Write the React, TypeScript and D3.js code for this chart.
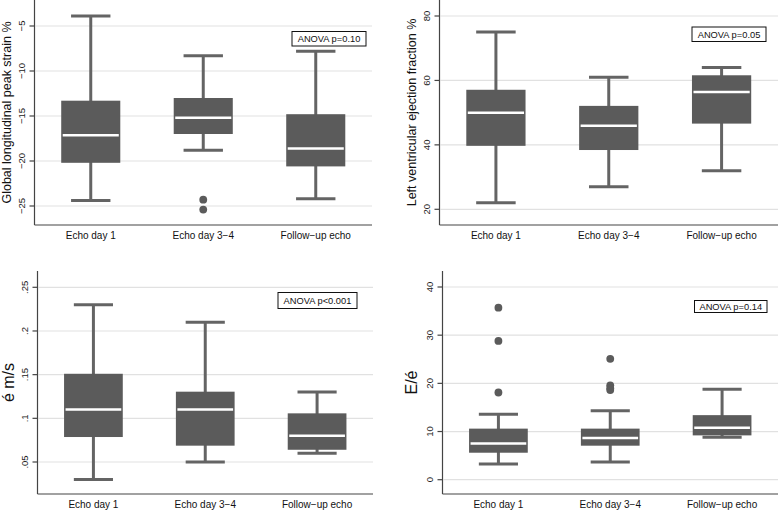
import React, { useEffect, useRef } from 'react';
import * as d3 from 'd3';

const categories = ['Echo day 1', 'Echo day 3\u22124', 'Follow\u2212up echo'];

// each box: [lower whisker, q1, median, q3, upper whisker]
const strainBoxes = [
  [-24.4, -20.2, -17.15, -13.3, -3.9],
  [-18.8, -17.0, -15.2, -13.0, -8.3],
  [-24.2, -20.6, -18.6, -14.8, -7.8],
];
const strainOutliers = [[], [-24.3, -25.4], []];
const strainTicks = [-25, -20, -15, -10, -5];
const strainTickLabels = ['\u221225', '\u221220', '\u221215', '\u221210', '\u22125'];

const lvefBoxes = [
  [22, 39.7, 50, 57.1, 75],
  [27, 38.4, 45.9, 52.1, 61],
  [32, 46.6, 56.4, 61.6, 64],
];
const lvefOutliers = [[], [], []];
const lvefTicks = [20, 40, 60, 80];
const lvefTickLabels = ['20', '40', '60', '80'];

const eVelBoxes = [
  [0.03, 0.0786, 0.11, 0.151, 0.23],
  [0.05, 0.0687, 0.11, 0.1305, 0.21],
  [0.06, 0.064, 0.08, 0.1057, 0.13],
];
const eVelOutliers = [[], [], []];
const eVelTicks = [0.05, 0.1, 0.15, 0.2, 0.25];
const eVelTickLabels = ['.05', '.1', '.15', '.2', '.25'];

const eeBoxes = [
  [3.25, 5.6, 7.5, 10.6, 13.6],
  [3.7, 7.06, 8.65, 10.6, 14.3],
  [8.8, 9.2, 10.8, 13.4, 18.8],
];
const eeOutliers = [[35.7, 28.8, 18.1], [25.1, 19.6, 19.0, 18.6], []];
const eeTicks = [0, 10, 20, 30, 40];
const eeTickLabels = ['0', '10', '20', '30', '40'];

const anovaLabels = ['ANOVA p=0.10', 'ANOVA p=0.05', 'ANOVA p<0.001', 'ANOVA p=0.14'];

const panels = [
  {
    title: 'Global longitudinal peak strain %', titleSize: 12.5, titleGap: 23.5,
    boxes: strainBoxes, outliers: strainOutliers, ticks: strainTicks, tickLabels: strainTickLabels,
    yDomain: [-25, -5], yRange: [206, 26],
    frame: { left: 34.5, right: 372, top: -2, bottom: 225 },
    note: { x: 292, y: 31.5, w: 74, h: 14.5 },
  },
  {
    title: 'Left ventricular ejection fraction %', titleSize: 12.5, titleGap: 23.5,
    boxes: lvefBoxes, outliers: lvefOutliers, ticks: lvefTicks, tickLabels: lvefTickLabels,
    yDomain: [20, 80], yRange: [209.3, 16],
    frame: { left: 439.5, right: 778, top: -2, bottom: 225 },
    note: { x: 692, y: 27, w: 74, h: 14.5 },
  },
  {
    title: 'é m/s', titleSize: 16, titleGap: 24,
    boxes: eVelBoxes, outliers: eVelOutliers, ticks: eVelTicks, tickLabels: eVelTickLabels,
    yDomain: [0.05, 0.25], yRange: [462, 287.3],
    frame: { left: 37.5, right: 373, top: 271, bottom: 494 },
    note: { x: 278, y: 292.5, w: 79, h: 16 },
  },
  {
    title: 'E/é', titleSize: 16, titleGap: 26,
    boxes: eeBoxes, outliers: eeOutliers, ticks: eeTicks, tickLabels: eeTickLabels,
    yDomain: [0, 40], yRange: [479.7, 287],
    frame: { left: 442.5, right: 778, top: 271, bottom: 494 },
    note: { x: 694.5, y: 300.5, w: 72.5, h: 12 },
  },
];

const FONT = "'Liberation Sans', Arial, sans-serif";
const BOX_FILL = '#5b5b5b';
const WHISKER = '#646464';

const App = () => {
  const svgRef = useRef(null);

  useEffect(() => {
    const svg = d3.select(svgRef.current);
    svg.selectAll('*').remove();

    svg.append('rect').attr('width', 778).attr('height', 511).attr('fill', '#fff');

    panels.forEach((p, pi) => {
      const { left, right, top, bottom } = p.frame;
      const g = svg.append('g');

      const x = d3.scaleBand().domain(categories).range([left, right]);
      const y = d3.scaleLinear().domain(p.yDomain).range(p.yRange);
      const bw = x.bandwidth();
      const boxW = bw * 0.525;
      const capW = bw * 0.35;

      // gridlines
      g.selectAll('.grid')
        .data(p.ticks)
        .join('line')
        .attr('x1', left + 1)
        .attr('x2', right)
        .attr('y1', d => y(d))
        .attr('y2', d => y(d))
        .attr('stroke', '#e1e1e1')
        .attr('stroke-width', 1.2);

      // axes
      g.append('line')
        .attr('x1', left).attr('x2', left)
        .attr('y1', top).attr('y2', bottom)
        .attr('stroke', '#444').attr('stroke-width', 1.2);
      g.append('line')
        .attr('x1', left).attr('x2', right)
        .attr('y1', bottom).attr('y2', bottom)
        .attr('stroke', '#444').attr('stroke-width', 1.2);

      g.selectAll('.tick')
        .data(p.ticks)
        .join('line')
        .attr('x1', left - 5)
        .attr('x2', left)
        .attr('y1', d => y(d))
        .attr('y2', d => y(d))
        .attr('stroke', '#444')
        .attr('stroke-width', 1.2);

      g.selectAll('.ticklabel')
        .data(p.ticks)
        .join('text')
        .attr('transform', (d) => `translate(${left - 10},${y(d)}) rotate(-90)`)
        .attr('text-anchor', 'middle')
        .attr('font-family', FONT)
        .attr('font-size', 9.5)
        .attr('fill', '#222')
        .text((d, i) => p.tickLabels[i]);

      // y title
      g.append('text')
        .attr('transform', `translate(${left - p.titleGap},${(Math.max(top, 0) + bottom) / 2}) rotate(-90)`)
        .attr('text-anchor', 'middle')
        .attr('font-family', FONT)
        .attr('font-size', p.titleSize)
        .attr('fill', '#111')
        .text(p.title);

      // x category labels
      g.selectAll('.xlabel')
        .data(categories)
        .join('text')
        .attr('x', d => x(d) + bw / 2)
        .attr('y', bottom + 13.5)
        .attr('text-anchor', 'middle')
        .attr('font-family', FONT)
        .attr('font-size', 10)
        .attr('fill', '#111')
        .text(d => d);

      // boxes
      p.boxes.forEach((b, i) => {
        const cx = x(categories[i]) + bw / 2;
        const [lo, q1, med, q3, hi] = b;
        const bg = g.append('g');
        bg.append('line')
          .attr('x1', cx).attr('x2', cx)
          .attr('y1', y(lo)).attr('y2', y(hi))
          .attr('stroke', WHISKER).attr('stroke-width', 3);
        [lo, hi].forEach(v => {
          bg.append('line')
            .attr('x1', cx - capW / 2).attr('x2', cx + capW / 2)
            .attr('y1', y(v)).attr('y2', y(v))
            .attr('stroke', WHISKER).attr('stroke-width', 3);
        });
        bg.append('rect')
          .attr('x', cx - boxW / 2)
          .attr('width', boxW)
          .attr('y', y(q3))
          .attr('height', y(q1) - y(q3))
          .attr('fill', BOX_FILL);
        bg.append('line')
          .attr('x1', cx - boxW / 2 + 1.5).attr('x2', cx + boxW / 2 - 1.5)
          .attr('y1', y(med)).attr('y2', y(med))
          .attr('stroke', '#fff').attr('stroke-width', 2.5);
        bg.selectAll('circle')
          .data(p.outliers[i])
          .join('circle')
          .attr('cx', cx)
          .attr('cy', d => y(d))
          .attr('r', 3.9)
          .attr('fill', BOX_FILL);
      });

      // ANOVA note
      const n = p.note;
      g.append('rect')
        .attr('x', n.x).attr('y', n.y)
        .attr('width', n.w).attr('height', n.h)
        .attr('fill', '#fff')
        .attr('stroke', '#111').attr('stroke-width', 1);
      g.append('text')
        .attr('x', n.x + n.w / 2)
        .attr('y', n.y + n.h / 2 + 3.3)
        .attr('text-anchor', 'middle')
        .attr('font-family', FONT)
        .attr('font-size', 9.3)
        .attr('fill', '#111')
        .text(anovaLabels[pi]);
    });
  }, []);

  return (
    <svg
      ref={svgRef}
      width="778"
      height="511"
      style={{ position: 'absolute', left: 0, top: 0, display: 'block' }}
    ></svg>
  );
};

export default App;
